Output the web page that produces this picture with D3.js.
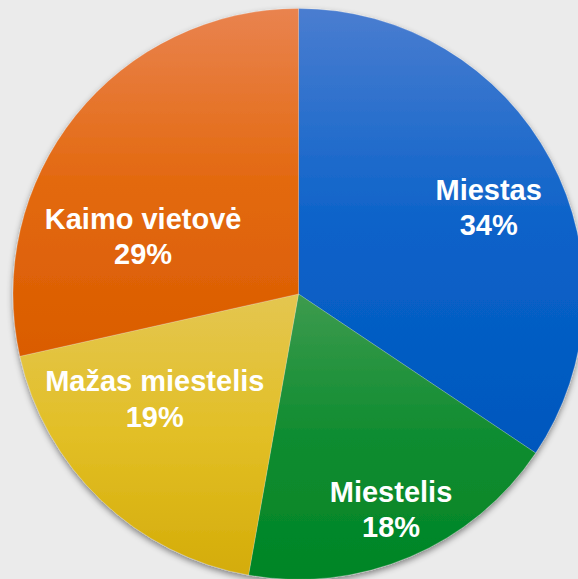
<!DOCTYPE html>
<html>
<head>
<meta charset="utf-8">
<script src="https://cdn.jsdelivr.net/npm/d3@7"></script>
<style>
  html, body { margin: 0; padding: 0; background: #ebebeb; }
  svg { display: block; }
</style>
</head>
<body>
<div id="chart"></div>
<script>
// slice data, clockwise from 12 o'clock
const categories = ['Miestas', 'Miestelis', 'Mažas miestelis', 'Kaimo vietovė']
const values = [34.4, 18.4, 18.7, 28.5]
const pctLabels = ['34%', '18%', '19%', '29%']

// gradient stops per slice: light top, base, darker bottom
const gradStops = [
  ['#4a7dd0', '#0a62c9', '#0057bd'],
  ['#3d9b4e', '#0f8c30', '#008526'],
  ['#e4c650', '#e2bf26', '#d4ac08'],
  ['#e9834f', '#e3690f', '#da5c00']
]
// label placement: angle (deg, clockwise from top) and radius fraction
const labelAngle = [65, 156.6, 234.3, 291]
const labelRadius = [0.735, 0.816, 0.62, 0.583]

const width = 578
const height = 579
const cx = 298.5, cy = 294
const radius = 285.5

const svg = d3.select('#chart')
              .append('svg')
              .attr('width', width)
              .attr('height', height)

const defs = svg.append('defs')

const shadow = defs.append('filter')
                   .attr('id', 'shadow')
                   .attr('x', '-10%').attr('y', '-10%')
                   .attr('width', '120%').attr('height', '120%')
shadow.append('feDropShadow')
      .attr('dx', 0).attr('dy', 3)
      .attr('stdDeviation', 3)
      .attr('flood-color', '#000')
      .attr('flood-opacity', 0.45)

gradStops.forEach((stops, i) => {
  const lg = defs.append('linearGradient')
                 .attr('id', 'grad' + i)
                 .attr('x1', 0).attr('y1', 0)
                 .attr('x2', 0).attr('y2', 1)
  stops.forEach((c, j) => {
    lg.append('stop')
      .attr('offset', j / (stops.length - 1))
      .attr('stop-color', c)
  })
})

const pie = d3.pie().sort(null).value(d => d)
const arcs = pie(values)
const arc = d3.arc().innerRadius(0).outerRadius(radius)

const g = svg.append('g')
             .attr('transform', 'translate(' + cx + ',' + cy + ')')

g.append('g')
 .attr('filter', 'url(#shadow)')
 .selectAll('path')
 .data(arcs)
 .enter()
 .append('path')
 .attr('d', arc)
 .attr('fill', (d, i) => 'url(#grad' + i + ')')
 .attr('stroke', 'rgba(255,255,255,0.25)')
 .attr('stroke-width', 0.8)

const labels = g.append('g')
                .attr('font-family', '"Liberation Sans", Arial, sans-serif')
                .attr('font-weight', 'bold')
                .attr('font-size', 29)
                .attr('fill', '#fff')
                .attr('text-anchor', 'middle')
                .selectAll('text')
                .data(arcs)
                .enter()
                .append('text')
                .attr('transform', (d, i) => {
                  const a = labelAngle[i] * Math.PI / 180
                  const r = labelRadius[i] * radius
                  return 'translate(' + (r * Math.sin(a)) + ',' + (-r * Math.cos(a)) + ')'
                })

labels.append('tspan')
      .attr('x', 0)
      .attr('dy', '-0.2em')
      .text((d, i) => categories[i])
labels.append('tspan')
      .attr('x', 0)
      .attr('dy', '1.22em')
      .text((d, i) => pctLabels[i])
</script>
</body>
</html>
